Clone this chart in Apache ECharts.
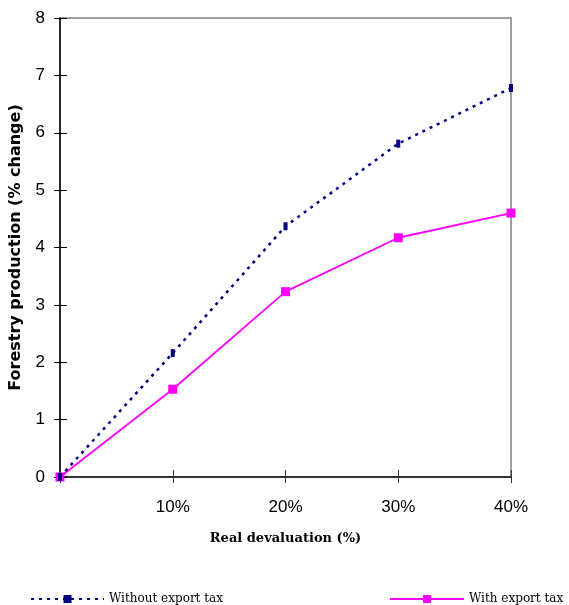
<!DOCTYPE html>
<html>
<head>
<meta charset="utf-8">
<script src="https://cdn.jsdelivr.net/npm/echarts@6/dist/echarts.min.js"></script>
<style>
html,body{margin:0;padding:0;background:#fff;}
#chart{width:569px;height:605px;}
</style>
</head>
<body>
<div id="chart"></div>
<script>
const categories = ['', '10%', '20%', '30%', '40%'];
const yTicks = [0, 1, 2, 3, 4, 5, 6, 7, 8];
const withoutTax = [0, 2.16, 4.37, 5.81, 6.78];
const withTax = [0, 1.53, 3.23, 4.17, 4.60];
const seriesNames = ['Without export tax', 'With export tax'];

const chart = echarts.init(document.getElementById('chart'), null, {renderer: 'canvas'});
const tickFont = {fontFamily: 'Liberation Sans, Arial, sans-serif', fontSize: 17, color: '#000'};
const legendText = {fontFamily: 'DejaVu Serif, serif', fontSize: 12, color: '#000'};

const option = {
  backgroundColor: '#fff',
  animation: false,
  grid: {
    left: 60, right: 58, top: 18, bottom: 128,
    show: true, borderColor: '#7f7f7f', borderWidth: 1.5, backgroundColor: 'transparent'
  },
  legend: [
    {
      data: [seriesNames[0]], left: 25, top: 588, itemWidth: 73, itemHeight: 10, itemGap: 6,
      textStyle: legendText
    },
    {
      data: [seriesNames[1]], left: 384, top: 588, itemWidth: 74, itemHeight: 10, itemGap: 4,
      textStyle: legendText
    }
  ],
  xAxis: [
    {
      type: 'category', data: categories, boundaryGap: false, position: 'bottom',
      axisLine: {show: true, lineStyle: {color: '#333', width: 2}},
      axisTick: {show: true, inside: false, length: 6, lineStyle: {color: '#333', width: 1}},
      axisLabel: Object.assign({margin: 22, interval: 0}, tickFont),
      splitLine: {show: false},
      name: 'Real devaluation (%)', nameLocation: 'middle', nameGap: 55,
      nameTextStyle: {fontFamily: 'DejaVu Serif, serif', fontWeight: 'bold', fontSize: 13, color: '#000'}
    },
    {
      type: 'category', data: categories, boundaryGap: false, position: 'bottom',
      axisLine: {show: false},
      axisTick: {show: true, inside: true, length: 7, lineStyle: {color: '#333', width: 1}},
      axisLabel: {show: false}, splitLine: {show: false}
    }
  ],
  yAxis: [
    {
      type: 'value', min: 0, max: 8, interval: 1, position: 'left',
      axisLine: {show: true, lineStyle: {color: '#000', width: 1.5}},
      axisTick: {show: true, inside: false, length: 6, lineStyle: {color: '#000', width: 1}},
      axisLabel: Object.assign({margin: 15, formatter: v => String(yTicks[v] !== undefined ? yTicks[v] : v)}, tickFont),
      splitLine: {show: false},
      name: 'Forestry production (% change)', nameLocation: 'middle', nameGap: 36, nameRotate: 90,
      nameTextStyle: {fontFamily: 'DejaVu Sans, sans-serif', fontWeight: 'bold', fontSize: 16, color: '#000'}
    },
    {
      type: 'value', min: 0, max: 8, interval: 1, position: 'left',
      axisLine: {show: false},
      axisTick: {show: true, inside: true, length: 7, lineStyle: {color: '#000', width: 1}},
      axisLabel: {show: false}, splitLine: {show: false}
    }
  ],
  series: [
    {
      name: seriesNames[0], type: 'line', data: withoutTax, xAxisIndex: 0, yAxisIndex: 0,
      symbol: 'rect', symbolSize: [4, 8], showAllSymbol: true,
      lineStyle: {color: '#000080', width: 2.5, type: [3, 5]},
      itemStyle: {color: '#000080'}, z: 3
    },
    {
      name: seriesNames[1], type: 'line', data: withTax, xAxisIndex: 0, yAxisIndex: 0,
      symbol: 'rect', symbolSize: 9, showAllSymbol: true,
      lineStyle: {color: '#ff00ff', width: 1.8},
      itemStyle: {color: '#ff00ff'}, z: 2
    }
  ]
};
chart.setOption(option);
</script>
</body>
</html>
